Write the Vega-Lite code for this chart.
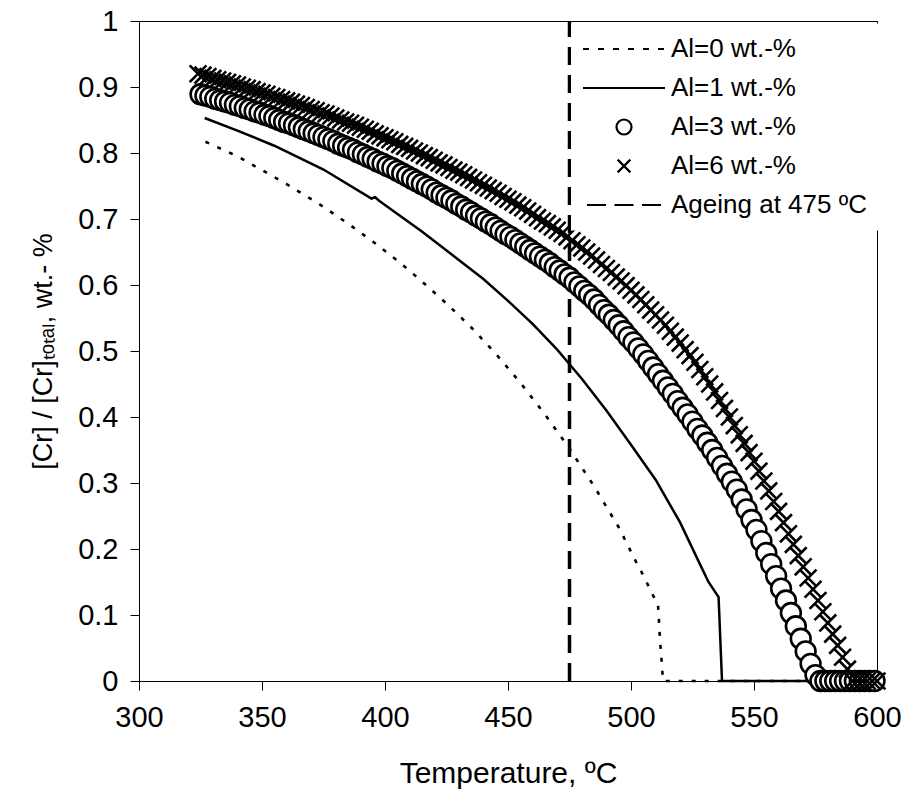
{
  "$schema": "https://vega.github.io/schema/vega-lite/v6.json",
  "autosize": {"type": "none"},
  "padding": {"left": 139, "top": 21, "right": 31, "bottom": 117},
  "width": 738,
  "height": 660,
  "background": "white",
  "config": {
    "view": {"stroke": "black", "strokeWidth": 1},
    "axis": {
      "labelFont": "Liberation Sans", "titleFont": "Liberation Sans",
      "labelFontSize": 29, "titleFontSize": 30, "titleFontWeight": "normal",
      "labelColor": "black", "titleColor": "black",
      "domainColor": "black", "tickColor": "black", "tickSize": 9,
      "grid": false, "labelFlush": false
    }
  },
  "datasets": {
    "al0": [
      {"T": 327, "v": 0.817}, {"T": 340, "v": 0.795}, {"T": 350, "v": 0.774}, {"T": 360, "v": 0.753},
      {"T": 373.5, "v": 0.722}, {"T": 385, "v": 0.693}, {"T": 395, "v": 0.666}, {"T": 405, "v": 0.637},
      {"T": 413, "v": 0.612}, {"T": 425, "v": 0.572}, {"T": 435, "v": 0.536}, {"T": 445, "v": 0.496},
      {"T": 455, "v": 0.452}, {"T": 465, "v": 0.404}, {"T": 475, "v": 0.352}, {"T": 485, "v": 0.295},
      {"T": 495, "v": 0.233}, {"T": 502.4, "v": 0.178}, {"T": 505, "v": 0.16}, {"T": 508.5, "v": 0.133},
      {"T": 511, "v": 0.115}, {"T": 511.8, "v": 0.062}, {"T": 512.7, "v": 0.017}, {"T": 513, "v": 0},
      {"T": 600, "v": 0}
    ],
    "al1": [
      {"T": 326.7, "v": 0.853}, {"T": 340, "v": 0.834}, {"T": 355, "v": 0.811}, {"T": 375, "v": 0.775},
      {"T": 394.5, "v": 0.731}, {"T": 396, "v": 0.733}, {"T": 397.5, "v": 0.728}, {"T": 399, "v": 0.724},
      {"T": 415, "v": 0.681}, {"T": 430, "v": 0.638}, {"T": 440, "v": 0.609}, {"T": 450, "v": 0.576},
      {"T": 460, "v": 0.541}, {"T": 470, "v": 0.502}, {"T": 475, "v": 0.48}, {"T": 480, "v": 0.458},
      {"T": 490, "v": 0.41}, {"T": 500, "v": 0.358}, {"T": 510, "v": 0.305}, {"T": 520, "v": 0.24},
      {"T": 527, "v": 0.185}, {"T": 531.5, "v": 0.15}, {"T": 535.6, "v": 0.127}, {"T": 537, "v": 0},
      {"T": 600, "v": 0}
    ],
    "ageing": [{"T": 475, "v0": 0, "v1": 1}],
    "al3": [
      {"T": 325, "v": 0.889}, {"T": 327, "v": 0.887}, {"T": 329, "v": 0.885}, {"T": 331, "v": 0.882},
      {"T": 333, "v": 0.880}, {"T": 335, "v": 0.878}, {"T": 337, "v": 0.876}, {"T": 339, "v": 0.873},
      {"T": 341, "v": 0.871}, {"T": 343, "v": 0.868}, {"T": 345, "v": 0.866}, {"T": 347, "v": 0.863},
      {"T": 349, "v": 0.861}, {"T": 351, "v": 0.858}, {"T": 353, "v": 0.856}, {"T": 355, "v": 0.853},
      {"T": 357, "v": 0.850}, {"T": 359, "v": 0.847}, {"T": 361, "v": 0.845}, {"T": 363, "v": 0.842},
      {"T": 365, "v": 0.839}, {"T": 367, "v": 0.836}, {"T": 369, "v": 0.833}, {"T": 371, "v": 0.830},
      {"T": 373, "v": 0.827}, {"T": 375, "v": 0.824}, {"T": 377, "v": 0.821}, {"T": 379, "v": 0.818},
      {"T": 381, "v": 0.814}, {"T": 383, "v": 0.811}, {"T": 385, "v": 0.808}, {"T": 387, "v": 0.805},
      {"T": 389, "v": 0.801}, {"T": 391, "v": 0.798}, {"T": 393, "v": 0.794}, {"T": 395, "v": 0.791},
      {"T": 397, "v": 0.787}, {"T": 399, "v": 0.784}, {"T": 401, "v": 0.780}, {"T": 403, "v": 0.777},
      {"T": 405, "v": 0.773}, {"T": 407, "v": 0.769}, {"T": 409, "v": 0.765}, {"T": 411, "v": 0.761},
      {"T": 413, "v": 0.757}, {"T": 415, "v": 0.753}, {"T": 417, "v": 0.749}, {"T": 419, "v": 0.745},
      {"T": 421, "v": 0.740}, {"T": 423, "v": 0.736}, {"T": 425, "v": 0.732}, {"T": 427, "v": 0.728},
      {"T": 429, "v": 0.723}, {"T": 431, "v": 0.719}, {"T": 433, "v": 0.714}, {"T": 435, "v": 0.710},
      {"T": 437, "v": 0.705}, {"T": 439, "v": 0.701}, {"T": 441, "v": 0.696}, {"T": 443, "v": 0.692},
      {"T": 445, "v": 0.687}, {"T": 447, "v": 0.682}, {"T": 449, "v": 0.677}, {"T": 451, "v": 0.673},
      {"T": 453, "v": 0.668}, {"T": 455, "v": 0.663}, {"T": 457, "v": 0.658}, {"T": 459, "v": 0.653},
      {"T": 461, "v": 0.648}, {"T": 463, "v": 0.643}, {"T": 465, "v": 0.638}, {"T": 467, "v": 0.633},
      {"T": 469, "v": 0.627}, {"T": 471, "v": 0.622}, {"T": 473, "v": 0.616}, {"T": 475, "v": 0.611},
      {"T": 477, "v": 0.604}, {"T": 479, "v": 0.598}, {"T": 481, "v": 0.591}, {"T": 483, "v": 0.585},
      {"T": 485, "v": 0.578}, {"T": 487, "v": 0.570}, {"T": 489, "v": 0.562}, {"T": 491, "v": 0.555},
      {"T": 493, "v": 0.547}, {"T": 495, "v": 0.539}, {"T": 497, "v": 0.530}, {"T": 499, "v": 0.521},
      {"T": 501, "v": 0.513}, {"T": 503, "v": 0.504}, {"T": 505, "v": 0.495}, {"T": 507, "v": 0.485},
      {"T": 509, "v": 0.475}, {"T": 511, "v": 0.465}, {"T": 513, "v": 0.455}, {"T": 515, "v": 0.445},
      {"T": 517, "v": 0.435}, {"T": 519, "v": 0.424}, {"T": 521, "v": 0.414}, {"T": 523, "v": 0.404},
      {"T": 525, "v": 0.393}, {"T": 527, "v": 0.382}, {"T": 529, "v": 0.372}, {"T": 531, "v": 0.361},
      {"T": 533, "v": 0.350}, {"T": 535, "v": 0.338}, {"T": 537, "v": 0.326}, {"T": 539, "v": 0.314},
      {"T": 541, "v": 0.302}, {"T": 543, "v": 0.290}, {"T": 545, "v": 0.275}, {"T": 547, "v": 0.260},
      {"T": 549, "v": 0.244}, {"T": 551, "v": 0.229}, {"T": 553, "v": 0.212}, {"T": 555, "v": 0.194},
      {"T": 557, "v": 0.177}, {"T": 559, "v": 0.159}, {"T": 561, "v": 0.140}, {"T": 563, "v": 0.122},
      {"T": 565, "v": 0.103}, {"T": 567, "v": 0.083}, {"T": 569, "v": 0.064}, {"T": 571, "v": 0.045},
      {"T": 573, "v": 0.026}, {"T": 575, "v": 0.009}, {"T": 577, "v": 0}, {"T": 579, "v": 0},
      {"T": 581, "v": 0}, {"T": 583, "v": 0}, {"T": 585, "v": 0}, {"T": 587, "v": 0},
      {"T": 589, "v": 0}, {"T": 591, "v": 0}, {"T": 593, "v": 0}, {"T": 595, "v": 0},
      {"T": 597, "v": 0}, {"T": 599, "v": 0}
    ],
    "al6": [
      {"series": "Al=6 wt.-%", "T": 324, "v": 0.920}, {"series": "Al=6 wt.-%", "T": 326, "v": 0.918},
      {"series": "Al=6 wt.-%", "T": 328, "v": 0.916}, {"series": "Al=6 wt.-%", "T": 330, "v": 0.913},
      {"series": "Al=6 wt.-%", "T": 332, "v": 0.911}, {"series": "Al=6 wt.-%", "T": 334, "v": 0.909},
      {"series": "Al=6 wt.-%", "T": 336, "v": 0.907}, {"series": "Al=6 wt.-%", "T": 338, "v": 0.905},
      {"series": "Al=6 wt.-%", "T": 340, "v": 0.903}, {"series": "Al=6 wt.-%", "T": 342, "v": 0.900},
      {"series": "Al=6 wt.-%", "T": 344, "v": 0.898}, {"series": "Al=6 wt.-%", "T": 346, "v": 0.896},
      {"series": "Al=6 wt.-%", "T": 348, "v": 0.893}, {"series": "Al=6 wt.-%", "T": 350, "v": 0.891},
      {"series": "Al=6 wt.-%", "T": 352, "v": 0.889}, {"series": "Al=6 wt.-%", "T": 354, "v": 0.886},
      {"series": "Al=6 wt.-%", "T": 356, "v": 0.884}, {"series": "Al=6 wt.-%", "T": 358, "v": 0.881},
      {"series": "Al=6 wt.-%", "T": 360, "v": 0.879}, {"series": "Al=6 wt.-%", "T": 362, "v": 0.877},
      {"series": "Al=6 wt.-%", "T": 364, "v": 0.874}, {"series": "Al=6 wt.-%", "T": 366, "v": 0.872},
      {"series": "Al=6 wt.-%", "T": 368, "v": 0.869}, {"series": "Al=6 wt.-%", "T": 370, "v": 0.866},
      {"series": "Al=6 wt.-%", "T": 372, "v": 0.864}, {"series": "Al=6 wt.-%", "T": 374, "v": 0.861},
      {"series": "Al=6 wt.-%", "T": 376, "v": 0.859}, {"series": "Al=6 wt.-%", "T": 378, "v": 0.856},
      {"series": "Al=6 wt.-%", "T": 380, "v": 0.853}, {"series": "Al=6 wt.-%", "T": 382, "v": 0.850},
      {"series": "Al=6 wt.-%", "T": 384, "v": 0.847}, {"series": "Al=6 wt.-%", "T": 386, "v": 0.845},
      {"series": "Al=6 wt.-%", "T": 388, "v": 0.842}, {"series": "Al=6 wt.-%", "T": 390, "v": 0.839},
      {"series": "Al=6 wt.-%", "T": 392, "v": 0.836}, {"series": "Al=6 wt.-%", "T": 394, "v": 0.833},
      {"series": "Al=6 wt.-%", "T": 396, "v": 0.829}, {"series": "Al=6 wt.-%", "T": 398, "v": 0.826},
      {"series": "Al=6 wt.-%", "T": 400, "v": 0.823}, {"series": "Al=6 wt.-%", "T": 402, "v": 0.820},
      {"series": "Al=6 wt.-%", "T": 404, "v": 0.817}, {"series": "Al=6 wt.-%", "T": 406, "v": 0.813},
      {"series": "Al=6 wt.-%", "T": 408, "v": 0.810}, {"series": "Al=6 wt.-%", "T": 410, "v": 0.807},
      {"series": "Al=6 wt.-%", "T": 412, "v": 0.803}, {"series": "Al=6 wt.-%", "T": 414, "v": 0.800},
      {"series": "Al=6 wt.-%", "T": 416, "v": 0.796}, {"series": "Al=6 wt.-%", "T": 418, "v": 0.793},
      {"series": "Al=6 wt.-%", "T": 420, "v": 0.789}, {"series": "Al=6 wt.-%", "T": 422, "v": 0.785},
      {"series": "Al=6 wt.-%", "T": 424, "v": 0.782}, {"series": "Al=6 wt.-%", "T": 426, "v": 0.778},
      {"series": "Al=6 wt.-%", "T": 428, "v": 0.774}, {"series": "Al=6 wt.-%", "T": 430, "v": 0.771},
      {"series": "Al=6 wt.-%", "T": 432, "v": 0.767}, {"series": "Al=6 wt.-%", "T": 434, "v": 0.763},
      {"series": "Al=6 wt.-%", "T": 436, "v": 0.759}, {"series": "Al=6 wt.-%", "T": 438, "v": 0.755},
      {"series": "Al=6 wt.-%", "T": 440, "v": 0.751}, {"series": "Al=6 wt.-%", "T": 442, "v": 0.747},
      {"series": "Al=6 wt.-%", "T": 444, "v": 0.743}, {"series": "Al=6 wt.-%", "T": 446, "v": 0.739},
      {"series": "Al=6 wt.-%", "T": 448, "v": 0.734}, {"series": "Al=6 wt.-%", "T": 450, "v": 0.730},
      {"series": "Al=6 wt.-%", "T": 452, "v": 0.726}, {"series": "Al=6 wt.-%", "T": 454, "v": 0.721},
      {"series": "Al=6 wt.-%", "T": 456, "v": 0.717}, {"series": "Al=6 wt.-%", "T": 458, "v": 0.712},
      {"series": "Al=6 wt.-%", "T": 460, "v": 0.707}, {"series": "Al=6 wt.-%", "T": 462, "v": 0.702},
      {"series": "Al=6 wt.-%", "T": 464, "v": 0.697}, {"series": "Al=6 wt.-%", "T": 466, "v": 0.693},
      {"series": "Al=6 wt.-%", "T": 468, "v": 0.688}, {"series": "Al=6 wt.-%", "T": 470, "v": 0.683},
      {"series": "Al=6 wt.-%", "T": 472, "v": 0.678}, {"series": "Al=6 wt.-%", "T": 474, "v": 0.673},
      {"series": "Al=6 wt.-%", "T": 476, "v": 0.667}, {"series": "Al=6 wt.-%", "T": 478, "v": 0.661},
      {"series": "Al=6 wt.-%", "T": 480, "v": 0.656}, {"series": "Al=6 wt.-%", "T": 482, "v": 0.650},
      {"series": "Al=6 wt.-%", "T": 484, "v": 0.644}, {"series": "Al=6 wt.-%", "T": 486, "v": 0.638},
      {"series": "Al=6 wt.-%", "T": 488, "v": 0.631}, {"series": "Al=6 wt.-%", "T": 490, "v": 0.625},
      {"series": "Al=6 wt.-%", "T": 492, "v": 0.619}, {"series": "Al=6 wt.-%", "T": 494, "v": 0.612},
      {"series": "Al=6 wt.-%", "T": 496, "v": 0.606}, {"series": "Al=6 wt.-%", "T": 498, "v": 0.599},
      {"series": "Al=6 wt.-%", "T": 500, "v": 0.592}, {"series": "Al=6 wt.-%", "T": 502, "v": 0.585},
      {"series": "Al=6 wt.-%", "T": 504, "v": 0.578}, {"series": "Al=6 wt.-%", "T": 506, "v": 0.570},
      {"series": "Al=6 wt.-%", "T": 508, "v": 0.562}, {"series": "Al=6 wt.-%", "T": 510, "v": 0.555},
      {"series": "Al=6 wt.-%", "T": 512, "v": 0.547}, {"series": "Al=6 wt.-%", "T": 514, "v": 0.539},
      {"series": "Al=6 wt.-%", "T": 516, "v": 0.530}, {"series": "Al=6 wt.-%", "T": 518, "v": 0.521},
      {"series": "Al=6 wt.-%", "T": 520, "v": 0.512}, {"series": "Al=6 wt.-%", "T": 522, "v": 0.502},
      {"series": "Al=6 wt.-%", "T": 524, "v": 0.493}, {"series": "Al=6 wt.-%", "T": 526, "v": 0.483},
      {"series": "Al=6 wt.-%", "T": 528, "v": 0.472}, {"series": "Al=6 wt.-%", "T": 530, "v": 0.461},
      {"series": "Al=6 wt.-%", "T": 532, "v": 0.450}, {"series": "Al=6 wt.-%", "T": 534, "v": 0.438},
      {"series": "Al=6 wt.-%", "T": 536, "v": 0.425}, {"series": "Al=6 wt.-%", "T": 538, "v": 0.413},
      {"series": "Al=6 wt.-%", "T": 540, "v": 0.400}, {"series": "Al=6 wt.-%", "T": 542, "v": 0.387},
      {"series": "Al=6 wt.-%", "T": 544, "v": 0.373}, {"series": "Al=6 wt.-%", "T": 546, "v": 0.360},
      {"series": "Al=6 wt.-%", "T": 548, "v": 0.346}, {"series": "Al=6 wt.-%", "T": 550, "v": 0.333},
      {"series": "Al=6 wt.-%", "T": 552, "v": 0.318}, {"series": "Al=6 wt.-%", "T": 554, "v": 0.303},
      {"series": "Al=6 wt.-%", "T": 556, "v": 0.288}, {"series": "Al=6 wt.-%", "T": 558, "v": 0.272},
      {"series": "Al=6 wt.-%", "T": 560, "v": 0.257}, {"series": "Al=6 wt.-%", "T": 562, "v": 0.240},
      {"series": "Al=6 wt.-%", "T": 564, "v": 0.223}, {"series": "Al=6 wt.-%", "T": 566, "v": 0.207},
      {"series": "Al=6 wt.-%", "T": 568, "v": 0.190}, {"series": "Al=6 wt.-%", "T": 570, "v": 0.173},
      {"series": "Al=6 wt.-%", "T": 572, "v": 0.156}, {"series": "Al=6 wt.-%", "T": 574, "v": 0.139},
      {"series": "Al=6 wt.-%", "T": 576, "v": 0.122}, {"series": "Al=6 wt.-%", "T": 578, "v": 0.105},
      {"series": "Al=6 wt.-%", "T": 580, "v": 0.088}, {"series": "Al=6 wt.-%", "T": 582, "v": 0.071},
      {"series": "Al=6 wt.-%", "T": 584, "v": 0.054}, {"series": "Al=6 wt.-%", "T": 586, "v": 0.036},
      {"series": "Al=6 wt.-%", "T": 588, "v": 0.018}, {"series": "Al=6 wt.-%", "T": 590, "v": 0},
      {"series": "Al=6 wt.-%", "T": 592, "v": 0}, {"series": "Al=6 wt.-%", "T": 594, "v": 0},
      {"series": "Al=6 wt.-%", "T": 596, "v": 0}, {"series": "Al=6 wt.-%", "T": 598, "v": 0},
      {"series": "Al=6 wt.-%", "T": 600, "v": 0}
    ]
  },
  "layer": [
    {
      "data": {"name": "al0"},
      "mark": {"type": "line", "color": "black", "strokeWidth": 2.6, "strokeDash": [4, 9]},
      "encoding": {
        "x": {"field": "T", "type": "quantitative", "scale": {"domain": [300, 600], "nice": false, "zero": false},
              "axis": {"values": [300, 350, 400, 450, 500, 550, 600], "title": "Temperature, ºC", "labelPadding": 13, "titlePadding": 26}},
        "y": {"field": "v", "type": "quantitative", "scale": {"domain": [0, 1], "nice": false},
              "axis": {"values": [0, 0.1, 0.2, 0.3, 0.4, 0.5, 0.6, 0.7, 0.8, 0.9, 1], "format": "~g",
                       "title": "[Cr] / [Cr]ₜₒₜₐₗ, wt.- %", "titleFontSize": 27, "labelPadding": 12, "titlePadding": 20}}
      }
    },
    {
      "data": {"name": "al1"},
      "mark": {"type": "line", "color": "black", "strokeWidth": 2.5},
      "encoding": {
        "x": {"field": "T", "type": "quantitative"},
        "y": {"field": "v", "type": "quantitative"}
      }
    },
    {
      "data": {"name": "ageing"},
      "mark": {"type": "rule", "color": "black", "strokeWidth": 3.5, "strokeDash": [18, 10]},
      "encoding": {
        "x": {"field": "T", "type": "quantitative"},
        "y": {"field": "v0", "type": "quantitative"},
        "y2": {"field": "v1"}
      }
    },
    {
      "data": {"name": "al3"},
      "mark": {"type": "point", "shape": "circle", "filled": false, "fill": "white", "stroke": "black", "strokeWidth": 2.6, "size": 390, "opacity": 1},
      "encoding": {
        "x": {"field": "T", "type": "quantitative"},
        "y": {"field": "v", "type": "quantitative"}
      }
    },
    {
      "data": {"name": "al6"},
      "mark": {"type": "point", "filled": false, "color": "black", "strokeWidth": 2.6, "size": 390, "opacity": 1},
      "encoding": {
        "x": {"field": "T", "type": "quantitative"},
        "y": {"field": "v", "type": "quantitative"},
        "shape": {
          "field": "series", "type": "nominal",
          "scale": {
            "domain": ["Al=0 wt.-%", "Al=1 wt.-%", "Al=3 wt.-%", "Al=6 wt.-%", "Ageing at 475 ºC"],
            "range": [
              "M-5.47,0H-4.67M-3.47,0H-2.67M-1.47,0H-0.67M0.53,0H1.33M2.53,0H3.33M4.53,0H5.33",
              "M-5.47,0H5.47",
              "circle",
              "M-0.85,-0.85L0.85,0.85M-0.85,0.85L0.85,-0.85",
              "M-4.93,0H-2.4M-1.27,0H1.27M2.4,0H4.93"
            ]
          },
          "legend": {
            "orient": "none", "legendX": 432, "legendY": 2.5, "title": null,
            "fillColor": "white", "padding": 12,
            "labelFont": "Liberation Sans", "labelFontSize": 26, "labelColor": "black", "labelLimit": 0,
            "symbolSize": 225, "symbolStrokeWidth": 2.2, "symbolStrokeColor": "black", "symbolFillColor": "transparent",
            "symbolOffset": 28, "labelOffset": 34, "rowPadding": 12, "clipHeight": 27
          }
        }
      }
    }
  ]
}
